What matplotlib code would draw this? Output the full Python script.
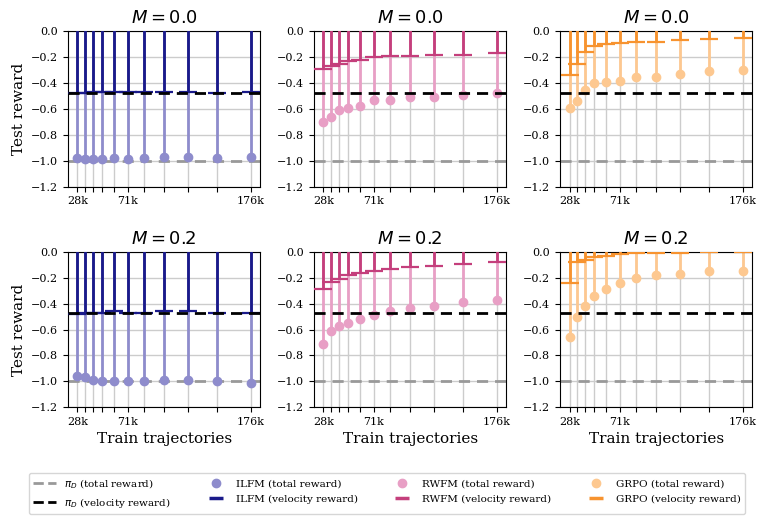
import numpy as np
import matplotlib.pyplot as plt
from matplotlib.lines import Line2D

plt.rcParams['font.family'] = 'DejaVu Serif'
plt.rcParams['mathtext.fontset'] = 'dejavusans'

# train trajectories (thousands)
x = [28, 34, 41, 49, 59, 71, 85, 102, 122, 147, 176]
tick_labels = ['28k', '', '', '', '', '71k', '', '', '', '', '176k']

pi_total = -1.0
pi_velocity = -0.475

ilfm_total_m0 = [-0.98, -0.99, -0.99, -0.99, -0.98, -0.99, -0.98, -0.97, -0.97, -0.98, -0.97]
ilfm_vel_m0 = [-0.48, -0.48, -0.47, -0.47, -0.47, -0.47, -0.47, -0.47, -0.47, -0.48, -0.47]
rwfm_total_m0 = [-0.70, -0.66, -0.61, -0.59, -0.58, -0.53, -0.53, -0.51, -0.51, -0.49, -0.48]
rwfm_vel_m0 = [-0.29, -0.27, -0.25, -0.23, -0.22, -0.20, -0.19, -0.19, -0.18, -0.18, -0.17]
grpo_total_m0 = [-0.59, -0.54, -0.45, -0.40, -0.39, -0.38, -0.35, -0.35, -0.33, -0.31, -0.30]
grpo_vel_m0 = [-0.34, -0.25, -0.16, -0.11, -0.10, -0.09, -0.08, -0.08, -0.07, -0.06, -0.05]

ilfm_total_m2 = [-0.96, -0.97, -0.99, -1.0, -1.0, -1.0, -1.0, -0.99, -0.99, -1.0, -1.01]
ilfm_vel_m2 = [-0.48, -0.47, -0.47, -0.47, -0.46, -0.47, -0.47, -0.46, -0.46, -0.47, -0.47]
rwfm_total_m2 = [-0.71, -0.61, -0.57, -0.55, -0.52, -0.49, -0.46, -0.43, -0.42, -0.39, -0.37]
rwfm_vel_m2 = [-0.29, -0.23, -0.21, -0.18, -0.16, -0.15, -0.13, -0.12, -0.11, -0.09, -0.08]
grpo_total_m2 = [-0.66, -0.50, -0.42, -0.34, -0.29, -0.24, -0.20, -0.18, -0.17, -0.15, -0.15]
grpo_vel_m2 = [-0.24, -0.08, -0.06, -0.04, -0.03, -0.02, -0.01, -0.01, -0.005, 0.0, 0.0]

methods = ['ILFM', 'RWFM', 'GRPO']
dark = {'ILFM': '#1a1a8a', 'RWFM': '#c43f7c', 'GRPO': '#f7932f'}
light = {'ILFM': '#8e8ccc', 'RWFM': '#e89fc5', 'GRPO': '#fdc890'}
data = {
    (0, 'ILFM'): (ilfm_total_m0, ilfm_vel_m0),
    (0, 'RWFM'): (rwfm_total_m0, rwfm_vel_m0),
    (0, 'GRPO'): (grpo_total_m0, grpo_vel_m0),
    (1, 'ILFM'): (ilfm_total_m2, ilfm_vel_m2),
    (1, 'RWFM'): (rwfm_total_m2, rwfm_vel_m2),
    (1, 'GRPO'): (grpo_total_m2, grpo_vel_m2),
}
m_vals = ['0.0', '0.2']

fig, axes = plt.subplots(2, 3, figsize=(7.74, 5.22), dpi=100)
fig.subplots_adjust(left=0.088, right=0.972, top=0.94, bottom=0.22, wspace=0.28, hspace=0.42)

for r in range(2):
    for c, m in enumerate(methods):
        ax = axes[r, c]
        tot, vel = data[(r, m)]
        ax.axhline(pi_total, color='#999999', ls='--', lw=2, dashes=(4, 2.5), zorder=1)
        ax.axhline(pi_velocity, color='black', ls='--', lw=2, dashes=(4, 2.5), zorder=4)
        up = [2.0] * len(x)
        ax.errorbar(x, tot, yerr=[[0] * len(x), up], fmt='o', color=light[m],
                    ms=6, elinewidth=2, capsize=0, zorder=2)
        ax.errorbar(x, vel, yerr=[[0] * len(x), up], fmt='_', color=dark[m],
                    ms=13, mew=1.6, elinewidth=2, capsize=0, zorder=3)
        ax.set_ylim(-1.2, 0.0)
        ax.set_yticks(np.arange(-1.2, 0.01, 0.2))
        ax.set_xlim(20, 184)
        ax.set_xticks(x)
        ax.set_xticklabels(tick_labels, fontsize=8)
        ax.tick_params(axis='y', labelsize=8)
        ax.grid(True, color='#cccccc', lw=1)
        ax.set_axisbelow(True)
        ax.set_title('$M = %s$' % m_vals[r], fontsize=13)
        if c == 0:
            ax.set_ylabel('Test reward', fontsize=11)
        if r == 1:
            ax.set_xlabel('Train trajectories', fontsize=11)

handles = [
    Line2D([], [], color='#999999', ls='--', lw=2),
    Line2D([], [], color='black', ls='--', lw=2),
]
labels = [r'$\pi_D$ (total reward)', r'$\pi_D$ (velocity reward)']
for m in methods:
    handles.append(Line2D([], [], color=light[m], marker='o', ls='', ms=6))
    handles.append(Line2D([], [], color=dark[m], marker='_', ls='', ms=10, mew=2.5))
    labels += ['%s (total reward)' % m, '%s (velocity reward)' % m]
fig.legend(handles, labels, loc='lower center', ncol=4, fontsize=7.5,
           bbox_to_anchor=(0.5, 0.005), columnspacing=3.2, handlelength=2.2,
           edgecolor='#cccccc')

plt.savefig('out.png', dpi=100)
